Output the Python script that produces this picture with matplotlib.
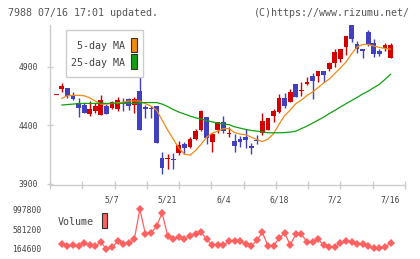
import numpy as np
import matplotlib
matplotlib.use("Agg")
import matplotlib.pyplot as plt
from matplotlib.patches import Rectangle

# daily prices (open, high, low, close), 61 sessions ending 7/16
opens = [4658, 4712, 4718, 4661, 4592, 4573, 4496, 4521, 4490, 4564,
         4550, 4541, 4601, 4624, 4570, 4692, 4553, 4547, 4567, 4120,
         4109, 4111, 4162, 4239, 4214, 4282, 4359, 4470, 4256, 4359,
         4427, 4325, 4265, 4282, 4299, 4222, 4273, 4333, 4359, 4479,
         4513, 4633, 4598, 4752, 4692, 4752, 4820, 4820, 4863, 4880,
         4932, 4966, 5068, 5256, 5094, 5051, 5197, 5103, 5034, 5060,
         4974]
highs = [4658, 4758, 4718, 4686, 4630, 4592, 4609, 4587, 4661, 4581,
         4609, 4638, 4632, 4632, 4638, 4844, 4573, 4567, 4567, 4171,
         4154, 4160, 4265, 4256, 4299, 4367, 4530, 4470, 4333, 4427,
         4479, 4385, 4325, 4308, 4367, 4248, 4316, 4504, 4462, 4538,
         4667, 4675, 4709, 4752, 4769, 4812, 4846, 4863, 4863, 4940,
         5051, 5051, 5162, 5256, 5120, 5051, 5214, 5137, 5051, 5103,
         5103]
lows = [4658, 4686, 4635, 4615, 4467, 4504, 4479, 4507, 4490, 4498,
        4536, 4524, 4524, 4530, 4507, 4361, 4464, 4464, 4250, 3985,
        4028, 4028, 4145, 4151, 4205, 4273, 4350, 4239, 4171, 4333,
        4333, 4299, 4171, 4214, 4205, 4154, 4239, 4316, 4359, 4427,
        4504, 4547, 4598, 4641, 4650, 4744, 4624, 4769, 4769, 4863,
        4897, 4940, 5000, 5111, 5017, 4974, 5077, 4983, 4991, 5034,
        4974]
closes = [4658, 4737, 4652, 4624, 4550, 4504, 4538, 4564, 4615, 4498,
          4598, 4615, 4587, 4567, 4621, 4361, 4536, 4536, 4250, 4037,
          4120, 4105, 4231, 4202, 4282, 4350, 4521, 4293, 4325, 4427,
          4353, 4333, 4222, 4256, 4273, 4205, 4265, 4436, 4462, 4521,
          4633, 4564, 4684, 4641, 4701, 4769, 4778, 4863, 4829, 4932,
          5026, 5051, 5162, 5137, 5051, 5034, 5085, 5008, 5008, 5085,
          5085]

# moving averages as drawn (sessions 2..61)
ma5 = [4630, 4652, 4656, 4656, 4652, 4635, 4607, 4581, 4581, 4587,
       4592, 4598, 4607, 4609, 4607, 4585, 4564, 4530, 4444, 4359,
       4282, 4205, 4154, 4145, 4184, 4239, 4299, 4333, 4350, 4372,
       4372, 4338, 4325, 4320, 4299, 4278, 4261, 4282, 4329, 4410,
       4483, 4530, 4585, 4615, 4654, 4684, 4722, 4761, 4795, 4842,
       4889, 4940, 5009, 5068, 5090, 5090, 5077, 5064, 5057, 5049]
ma25 = [4573, 4577, 4581, 4585, 4587, 4587, 4587, 4587, 4587, 4587,
        4587, 4587, 4587, 4587, 4590, 4594, 4594, 4594, 4581, 4560,
        4534, 4513, 4496, 4479, 4464, 4453, 4440, 4429, 4420, 4410,
        4406, 4387, 4376, 4365, 4356, 4350, 4344, 4336, 4336, 4336,
        4338, 4342, 4350, 4372, 4393, 4419, 4444, 4470, 4500, 4527,
        4556, 4584, 4611, 4638, 4667, 4692, 4721, 4750, 4791, 4835]

# volume (sessions 2..61)
volume = [269500, 227600, 248500, 227600, 290500, 248500, 227600, 304500, 164600, 199600,
          325500, 269500, 283500, 367500, 997800, 479400, 493400, 647300, 920000, 437400,
          374500, 409400, 367500, 437400, 479400, 514400, 367500, 241600, 241600, 241600,
          325500, 325500, 325500, 269500, 220600, 346500, 514400, 227600, 227600, 395500,
          493400, 248500, 479400, 479400, 311500, 311500, 367500, 248500, 206600, 206600,
          290500, 325500, 311500, 269500, 269500, 220600, 178600, 178600, 199600, 290500]

date_labels = ['5/7', '5/21', '6/4', '6/18', '7/2', '7/16']
date_pos = [10, 20, 30, 40, 50, 60]
price_ticks = [3900, 4400, 4900]
vol_ticks = [164600, 581200, 997800]

UP = '#d40000'
DOWN = '#4040c0'
ORANGE = '#f08a10'
GREEN = '#10a010'
VOLC = '#ff6060'
GRID = '#cccccc'
TXT = '#444444'
MONO = 'DejaVu Sans Mono'

W, H = 420, 259
fig = plt.figure(figsize=(W / 100, H / 100), dpi=100)


def fx(px):
    return px / W


def fy(py):
    return 1 - py / H


ax = fig.add_axes([fx(50), fy(184.7), fx(355), (184.7 - 25) / H])
n = len(closes)
x = np.arange(n)
o = np.array(opens)
c = np.array(closes)
cols = [UP if cc >= oo else DOWN for oo, cc in zip(o, c)]

ax.vlines(x, lows, highs, colors=cols, linewidth=1, zorder=2)
body_h = np.maximum(np.abs(c - o), 9)
ax.bar(x, body_h, bottom=np.minimum(o, c), width=0.85, color=cols, linewidth=0, zorder=3)

ax.plot(x[1:], ma5, color=ORANGE, linewidth=0.9, zorder=4)
ax.plot(x[1:], ma25, color=GREEN, linewidth=0.9, zorder=4)

x0 = -1.13
x1 = 62.6
ax.set_xlim(x0, x1)
ax.set_ylim(3893, 5256)
for s in ['top', 'right']:
    ax.spines[s].set_visible(False)
for s in ['left', 'bottom']:
    ax.spines[s].set_color(GRID)
    ax.spines[s].set_linewidth(1)

ax.set_yticks(price_ticks)
ax.set_yticklabels([str(t) for t in price_ticks], fontsize=5.8, family=MONO, color=TXT)
ax.tick_params(axis='y', direction='inout', length=5, width=1, color=GRID, pad=6)

ax.set_xticks(np.linspace(x0, x1, 12))
ax.set_xticklabels([])
ax.tick_params(axis='x', which='major', direction='inout', length=6, width=1, color=GRID)
ax.set_xticks(date_pos, minor=True)
ax.set_xticklabels(date_labels, minor=True, fontsize=5.8, family=MONO, color=TXT)
ax.tick_params(axis='x', which='minor', length=0, pad=7.5)

# legend box for moving averages
fig.add_artist(Rectangle((fx(65.7), fy(77.3)), fx(77.6), (77.3 - 30) / H,
                         transform=fig.transFigure, fc='white', ec=GRID, lw=1, zorder=10))
fig.text(fx(125), fy(46), '5-day MA', ha='right', va='center', fontsize=7.2,
         family=MONO, color=TXT, zorder=11)
fig.text(fx(125), fy(63), '25-day MA', ha='right', va='center', fontsize=7.2,
         family=MONO, color=TXT, zorder=11)
fig.add_artist(Rectangle((fx(131.3), fy(52.3)), fx(6), 14 / H, transform=fig.transFigure,
                         fc=ORANGE, ec='#333333', lw=0.8, zorder=11))
fig.add_artist(Rectangle((fx(131.3), fy(69.3)), fx(6), 15 / H, transform=fig.transFigure,
                         fc=GREEN, ec='#333333', lw=0.8, zorder=11))

# volume panel
vax = fig.add_axes([fx(50), fy(253), fx(355), 48 / H])
vax.plot(x[1:], volume, color=VOLC, linewidth=0.9, marker='D', markersize=3.8,
         markeredgewidth=0)
vax.set_xlim(x0, x1)
vax.set_ylim(80650, 1088000)
for s in vax.spines.values():
    s.set_visible(False)
vax.set_xticks([])
vax.set_yticks(vol_ticks)
vax.set_yticklabels([str(t) for t in vol_ticks], fontsize=5.8, family=MONO, color=TXT)
vax.tick_params(axis='y', length=0, pad=6)

fig.text(fx(58), fy(222.3), 'Volume', ha='left', va='center', fontsize=7.2,
         family=MONO, color=TXT)
fig.add_artist(Rectangle((fx(101.7), fy(228.3)), fx(5.6), 15 / H, transform=fig.transFigure,
                         fc=VOLC, ec='#333333', lw=0.8))

fig.text(fx(8), fy(12.5), '7988 07/16 17:01 updated.', ha='left', va='center',
         fontsize=7.2, family=MONO, color='#555555')
fig.text(fx(410), fy(12.5), '(C)https://www.rizumu.net/', ha='right', va='center',
         fontsize=7.2, family=MONO, color='#555555')

fig.savefig('out.png', dpi=100, facecolor='white')
